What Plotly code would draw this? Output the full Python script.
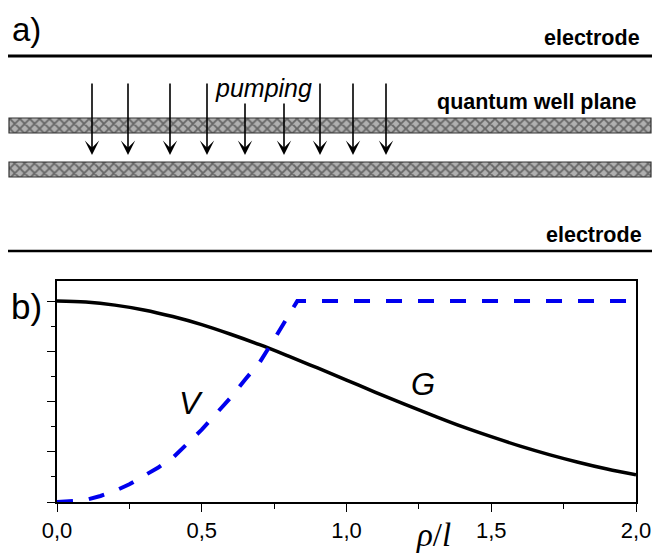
import plotly.graph_objects as go

# ---------------- data (panel b) ----------------
rho_g = [0.0, 0.1, 0.2, 0.3, 0.4, 0.5, 0.6, 0.7, 0.8, 0.9, 1.0,
         1.1, 1.2, 1.3, 1.4, 1.5, 1.6, 1.7, 1.8, 1.9, 2.0]
G_vals = [1.0, 0.995, 0.98, 0.956, 0.923, 0.883, 0.835, 0.783, 0.726, 0.667, 0.607,
          0.546, 0.487, 0.430, 0.375, 0.325, 0.278, 0.236, 0.198, 0.164, 0.135]

rho_v = [0.0, 0.05, 0.1, 0.15, 0.2, 0.25, 0.3, 0.35, 0.4, 0.45, 0.5, 0.55,
         0.6, 0.65, 0.7, 0.75, 0.8, 0.83, 2.0]
V_vals = [0.0, 0.003, 0.01, 0.03, 0.055, 0.088, 0.128, 0.172, 0.22, 0.29, 0.36, 0.44,
          0.52, 0.61, 0.695, 0.81, 0.925, 1.0, 1.0]

x_tickvals = [0.0, 0.5, 1.0, 1.5, 2.0]

# ---------------- schematic (panel a) ----------------
well_names = ["well 1", "well 2"]
pump_arrow_x = [92, 128, 170, 207, 245, 284, 320, 353, 386]
pump_arrow_top = [82, 82, 82, 82, 102, 102, 82, 82, 82]

W, H = 656, 554
PX0, PX1, PY0, PY1 = 57, 636, 281, 502

fig = go.Figure()

# quantum well planes (hatched)
fig.add_trace(go.Bar(
    x=[642, 642], y=[125.5, 169.5], base=[9, 9], width=[15, 15],
    orientation="h", xaxis="x2", yaxis="y2", showlegend=False,
    hoverinfo="skip", text=well_names, textposition="none",
    marker=dict(color="#b0b0b0", line=dict(color="#333333", width=1.2),
                pattern=dict(shape="x", fgcolor="#1a1a1a", bgcolor="#b0b0b0",
                             size=7, solidity=0.45)),
))

# curves
fig.add_trace(go.Scatter(x=rho_g, y=G_vals, mode="lines", showlegend=False,
                         line=dict(color="black", width=3.5, shape="spline")))
fig.add_trace(go.Scatter(x=rho_v, y=V_vals, mode="lines", showlegend=False,
                         line=dict(color="#0000ee", width=4, dash="16px,16px")))

annotations = []
for ax_, top in zip(pump_arrow_x, pump_arrow_top):
    annotations.append(dict(
        x=ax_, y=155, ax=ax_, ay=top, xref="x2", yref="y2", axref="x2", ayref="y2",
        text="", showarrow=True, arrowhead=3, arrowwidth=1.6, arrowsize=1.5,
        arrowcolor="black"))

def txt(t, x, y, size, xanchor="center", family="Liberation Sans", color="black"):
    annotations.append(dict(text=t, x=x, y=y, xref="x2", yref="y2", showarrow=False,
                            xanchor=xanchor, yanchor="middle",
                            font=dict(size=size, family=family, color=color)))

txt("a)", 26, 29, 33)
txt("b)", 26, 306, 35)
txt("<b>electrode</b>", 642, 38, 21.5, xanchor="right")
txt("<b>electrode</b>", 644, 235, 21.5, xanchor="right")
txt("<b>quantum well plane</b>", 639, 102, 21.5, xanchor="right")
txt("<i>pumping</i>", 263, 88, 25)
txt("<i>V</i>", 191, 403, 32)
txt("<i>G</i>", 423, 384, 31)
txt("<i>ρ</i>/<i>l</i>", 433, 535, 33, family="Liberation Serif")

shapes = [
    dict(type="line", xref="x2", yref="y2", x0=8, x1=652, y0=56, y1=56,
         line=dict(color="black", width=3)),
    dict(type="line", xref="x2", yref="y2", x0=8, x1=652, y0=251, y1=251,
         line=dict(color="black", width=2.5)),
]

fig.update_layout(
    width=W, height=H, margin=dict(l=0, r=0, t=0, b=0, autoexpand=False),
    paper_bgcolor="white", plot_bgcolor="rgba(0,0,0,0)",
    separators=", ", showlegend=False,
    annotations=annotations, shapes=shapes,
    font=dict(family="Liberation Sans", color="black"),
    xaxis=dict(domain=[PX0 / W, PX1 / W], range=[0, 2], anchor="y",
               tickvals=x_tickvals, tickformat=".1f", automargin=False,
               ticks="outside", ticklen=8, tickwidth=1.2, tickcolor="black",
               minor=dict(dtick=0.25, ticks="outside", ticklen=5, tickwidth=1.2,
                          tickcolor="black"),
               showline=True, linecolor="black", linewidth=1.5, mirror=True,
               showgrid=False, zeroline=False,
               tickfont=dict(size=22, family="Liberation Sans", color="black")),
    yaxis=dict(domain=[(H - PY1) / H, (H - PY0) / H], range=[0, 1.1], anchor="x",
               dtick=0.25, tick0=0, showticklabels=False, automargin=False,
               ticks="outside", ticklen=8, tickwidth=1.2, tickcolor="black",
               minor=dict(dtick=0.125, tick0=0, ticks="outside", ticklen=4,
                          tickwidth=1.2, tickcolor="black"),
               showline=True, linecolor="black", linewidth=1.5, mirror=True,
               showgrid=False, zeroline=False),
    xaxis2=dict(domain=[0, 1], range=[0, W], anchor="y2", visible=False,
                fixedrange=True, automargin=False),
    yaxis2=dict(domain=[0, 1], range=[H, 0], anchor="x2", visible=False,
                fixedrange=True, automargin=False),
)

post = ("document.body.style.margin='0';"
        "document.body.style.padding='0';"
        "document.body.style.overflow='hidden';"
        "document.documentElement.style.overflow='hidden';"
        "Plotly.relayout('{plot_id}', {width: %d, height: %d});" % (W, H))

fig.write_html("out.html", post_script=post,
               config={"responsive": False, "displayModeBar": False})
